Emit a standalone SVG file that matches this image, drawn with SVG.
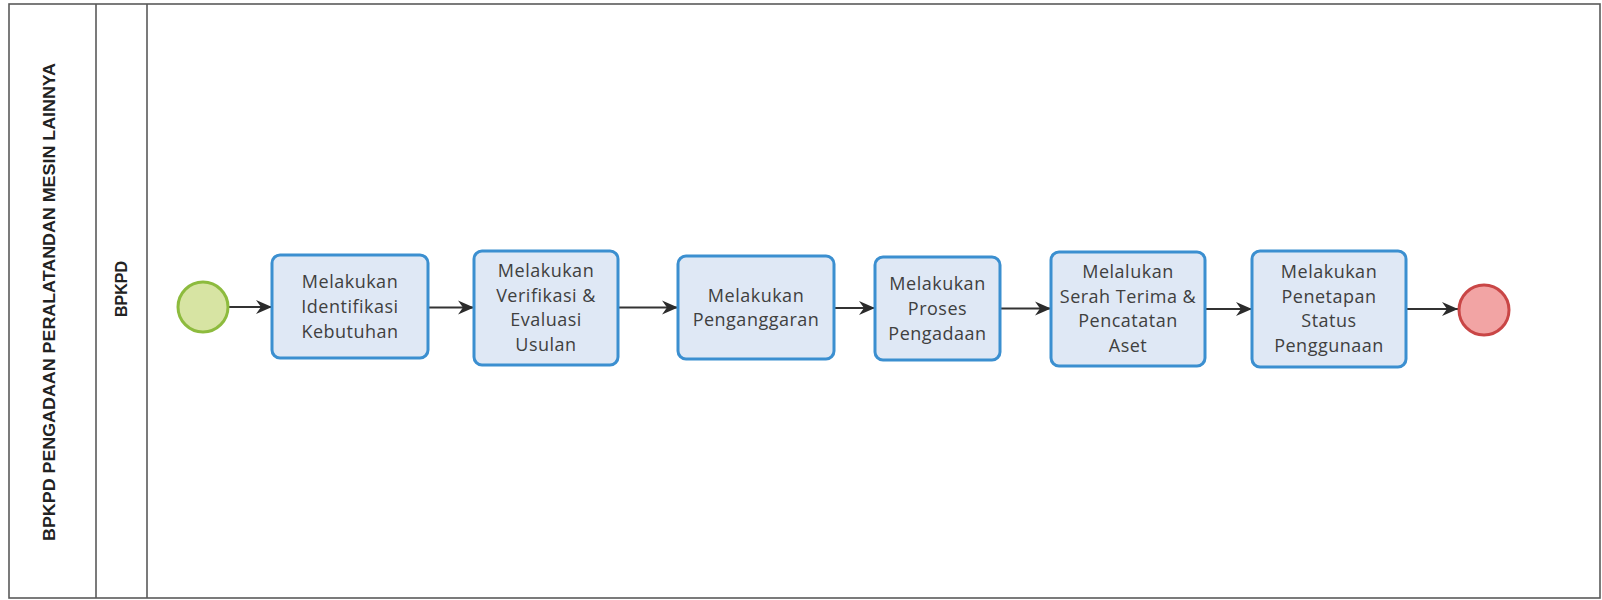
<svg xmlns="http://www.w3.org/2000/svg" width="1602" height="600" viewBox="0 0 1602 600">
<style>
.lane{fill:none;stroke:#5a5a5a;stroke-width:1.6}
.task rect{fill:#dfe8f5;stroke:#3b8fd0;stroke-width:3}
.task text{font-family:"Open Sans","DejaVu Sans",sans-serif;font-size:18px;fill:#404040;text-anchor:middle;letter-spacing:0.5px}
.hdr{font-family:"Liberation Sans",Arial,sans-serif;font-weight:bold;fill:#222;text-anchor:middle}
.flow{stroke:#333;stroke-width:2.2;fill:none;marker-end:url(#arr)}
</style>
<defs>
<marker id="arr" markerUnits="userSpaceOnUse" markerWidth="18" markerHeight="16" refX="16" refY="8" orient="auto">
<path d="M0,1 L16,8 L0,15 L5,8 Z" fill="#2b2b2b"/>
</marker>
</defs>
<rect width="1602" height="600" fill="#ffffff"/>
<g id="pool">
<rect class="lane" x="9" y="4" width="1591" height="594"/>
<line class="lane" x1="96" y1="4" x2="96" y2="598"/>
<line class="lane" x1="147" y1="4" x2="147" y2="598"/>
<text class="hdr" font-size="17" transform="translate(55,302) rotate(-90)" textLength="478" lengthAdjust="spacingAndGlyphs">BPKPD PENGADAAN PERALATANDAN MESIN LAINNYA</text>
<text class="hdr" font-size="16" transform="translate(127,289) rotate(-90)">BPKPD</text>
</g>
<g id="connectors">
<line class="flow" x1="229" y1="307" x2="272" y2="307"/>
<line class="flow" x1="428" y1="307.5" x2="474" y2="307.5"/>
<line class="flow" x1="618" y1="307.5" x2="678" y2="307.5"/>
<line class="flow" x1="834" y1="308" x2="875" y2="308"/>
<line class="flow" x1="1000" y1="308.5" x2="1051" y2="308.5"/>
<line class="flow" x1="1205" y1="309" x2="1252" y2="309"/>
<line class="flow" x1="1406" y1="309" x2="1458" y2="309"/>
</g>
<g id="start">
<circle cx="203" cy="307" r="25" fill="#d7e4a3" stroke="#8dbb3e" stroke-width="3"/>
</g>
<g id="task1" class="task">
<rect x="272" y="255" width="156" height="103" rx="8"/>
<text x="350" y="288">Melakukan</text>
<text x="350" y="313">Identifikasi</text>
<text x="350" y="338">Kebutuhan</text>
</g>
<g id="task2" class="task">
<rect x="474" y="251" width="144" height="114" rx="8"/>
<text x="546" y="277">Melakukan</text>
<text x="546" y="301.5">Verifikasi &amp;</text>
<text x="546" y="326">Evaluasi</text>
<text x="546" y="350.5">Usulan</text>
</g>
<g id="task3" class="task">
<rect x="678" y="256" width="156" height="103" rx="8"/>
<text x="756" y="302">Melakukan</text>
<text x="756" y="326">Penganggaran</text>
</g>
<g id="task4" class="task">
<rect x="875" y="257" width="125" height="103" rx="8"/>
<text x="937.5" y="290">Melakukan</text>
<text x="937.5" y="315">Proses</text>
<text x="937.5" y="340">Pengadaan</text>
</g>
<g id="task5" class="task">
<rect x="1051" y="252" width="154" height="114" rx="8"/>
<text x="1128" y="278">Melalukan</text>
<text x="1128" y="302.5">Serah Terima &amp;</text>
<text x="1128" y="327">Pencatatan</text>
<text x="1128" y="351.5">Aset</text>
</g>
<g id="task6" class="task">
<rect x="1252" y="251" width="154" height="116" rx="8"/>
<text x="1329" y="278">Melakukan</text>
<text x="1329" y="302.5">Penetapan</text>
<text x="1329" y="327">Status</text>
<text x="1329" y="351.5">Penggunaan</text>
</g>
<g id="end">
<circle cx="1484" cy="310" r="25" fill="#f2a4a4" stroke="#c94646" stroke-width="3"/>
</g>
</svg>
